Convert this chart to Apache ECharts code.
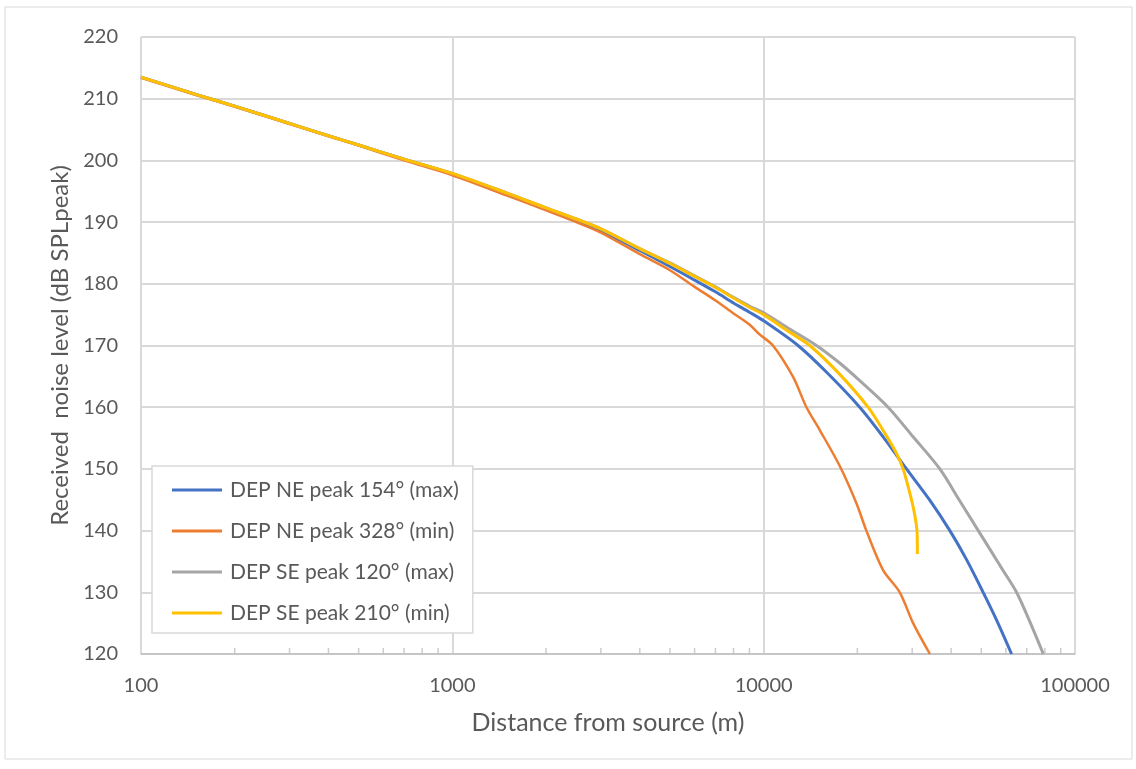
<!DOCTYPE html>
<html>
<head>
<meta charset="utf-8">
<script src="https://cdn.jsdelivr.net/npm/echarts@6/dist/echarts.min.js"></script>
<style>
html,body{margin:0;padding:0;background:#fff;}
#chart{width:1136px;height:769px;}
</style>
</head>
<body>
<div id="chart"></div>
<script>
// ---- data ----
const seriesNames = [
  'DEP NE peak 154° (max)',
  'DEP NE peak 328° (min)',
  'DEP SE peak 120° (max)',
  'DEP SE peak 210° (min)'
];
const xTickLabels = ['100', '1000', '10000', '100000'];
const yTickLabels = ['120','130','140','150','160','170','180','190','200','210','220'];

const neMaxDist  = [100,150,200,300,400,500,700,1000,1500,2000,2500,3000,4000,5000,6000,7000,8000,9000,10000,12890,15900,20350,24190,28760,34200,39630,44840,50700,56000,62570];
const neMaxLevel = [213.5,210.7,208.8,206.0,204.0,202.5,200.2,197.8,194.6,192.1,190.3,188.6,185.4,182.8,180.6,178.7,176.9,175.4,174.0,170.0,165.7,160.0,155.2,150.0,144.9,140.0,135.3,130.0,125.5,120.0];

const neMinDist  = [100,150,200,300,400,500,700,1000,1500,2000,2500,3000,4000,5000,6000,7000,8000,9000,9700,10710,12430,13720,15140,17540,19870,21370,24190,27360,30200,34200];
const neMinLevel = [213.4,210.6,208.7,205.9,203.9,202.4,200.0,197.6,194.3,191.9,190.0,188.3,184.8,182.2,179.5,177.3,175.2,173.4,171.8,170.0,164.9,160.0,156.3,150.5,144.4,140.0,133.6,130.0,125.0,120.0];

const seMaxDist  = [100,150,200,300,400,500,700,1000,1500,2000,2500,3000,4000,5000,6000,7000,8000,9000,10000,12000,14770,17500,20350,25100,30200,36800,42670,48900,58820,64900,71650,79100];
const seMaxLevel = [213.5,210.7,208.8,206.0,204.0,202.5,200.2,197.9,194.7,192.3,190.5,188.9,185.7,183.4,181.3,179.5,177.8,176.4,175.3,172.8,170.0,167.2,164.3,160.0,155.2,150.0,144.8,140.0,133.5,130.0,125.2,120.0];

const seMinDist  = [100,150,200,300,400,500,700,1000,1500,2000,2500,3000,4000,5000,6000,7000,8000,9000,10000,12000,14060,17500,21640,24500,26710,28050,29840,30630,31080,31150,31170];
const seMinLevel = [213.5,210.7,208.8,206.0,204.0,202.5,200.2,197.9,194.7,192.3,190.5,188.9,185.7,183.3,181.2,179.4,177.7,176.2,175.0,172.3,170.0,165.4,160.0,155.8,152.5,150.0,145.0,142.3,140.0,138.0,136.2];

// minor tick positions of the log axis (2..9 in each decade)
const minorTickValues = [200,300,400,500,600,700,800,900,2000,3000,4000,5000,6000,7000,8000,9000,20000,30000,40000,50000,60000,70000,80000,90000];

const colors = ['#4472C4', '#ED7D31', '#A5A5A5', '#FFC000'];
const FONT = 'Lato';

function pairs(xs, ys) { return xs.map((x, i) => [x, ys[i]]); }

const chart = echarts.init(document.getElementById('chart'), null, {renderer: 'canvas'});

const lineSeries = [
  [neMaxDist, neMaxLevel],
  [neMinDist, neMinLevel],
  [seMaxDist, seMaxLevel],
  [seMinDist, seMinLevel]
].map((d, i) => ({
  name: seriesNames[i],
  type: 'line',
  data: pairs(d[0], d[1]),
  showSymbol: false,
  smooth: 0.3,
  lineStyle: {color: colors[i], width: i === 1 ? 2.5 : 3},
  itemStyle: {color: colors[i]},
  z: 3 + i
}));

chart.setOption({
  animation: false,
  backgroundColor: '#fff',
  textStyle: {fontFamily: FONT},
  graphic: [{
    type: 'rect',
    shape: {x: 5, y: 7, width: 1127, height: 752},
    style: {fill: 'none', stroke: '#d9d9d9', lineWidth: 1},
    silent: true, z: -10
  }],
  grid: {left: 141, right: 61, top: 37, bottom: 115},
  legend: {
    data: seriesNames,
    orient: 'vertical',
    left: 152, top: 466,
    padding: [12, 14, 8, 20],
    itemGap: 17,
    itemWidth: 50,
    itemHeight: 3,
    icon: 'rect',
    backgroundColor: '#fff',
    borderColor: '#d9d9d9',
    borderWidth: 1.5,
    borderRadius: 0,
    textStyle: {fontFamily: FONT, fontSize: 21, color: '#595959', lineHeight: 24, padding: [0,0,0,3]},
    z: 20
  },
  xAxis: {
    type: 'log',
    logBase: 10,
    min: 100,
    max: 100000,
    name: 'Distance from source (m)',
    nameLocation: 'middle',
    nameGap: 56,
    nameTextStyle: {fontFamily: FONT, fontSize: 25, color: '#595959'},
    axisLine: {show: true, lineStyle: {color: '#bfbfbf', width: 1.5}},
    axisTick: {show: false},
    axisLabel: {
      fontFamily: FONT, fontSize: 20, color: '#595959', margin: 22,
      formatter: v => { const s = String(Math.round(v)); return xTickLabels.includes(s) ? s : ''; }
    },
    splitLine: {show: true, lineStyle: {color: '#d9d9d9', width: 2}}
  },
  yAxis: {
    type: 'value',
    min: 120,
    max: 220,
    interval: 10,
    name: 'Received  noise level (dB SPLpeak)',
    nameLocation: 'middle',
    nameGap: 67,
    nameTextStyle: {fontFamily: FONT, fontSize: 24, color: '#595959'},
    axisLine: {show: false},
    axisTick: {show: false},
    axisLabel: {
      fontFamily: FONT, fontSize: 20, color: '#595959', margin: 23,
      formatter: v => yTickLabels.includes(String(v)) ? String(v) : ''
    },
    splitLine: {show: true, lineStyle: {color: '#d9d9d9', width: 2}}
  },
  series: lineSeries.concat([{
    name: 'minorTicks',
    type: 'scatter',
    silent: true,
    symbol: 'rect',
    symbolSize: [1.5, 6],
    symbolOffset: [0, -3],
    itemStyle: {color: '#bfbfbf'},
    data: minorTickValues.map(v => [v, 120]),
    z: 1
  }])
});
</script>
</body>
</html>
